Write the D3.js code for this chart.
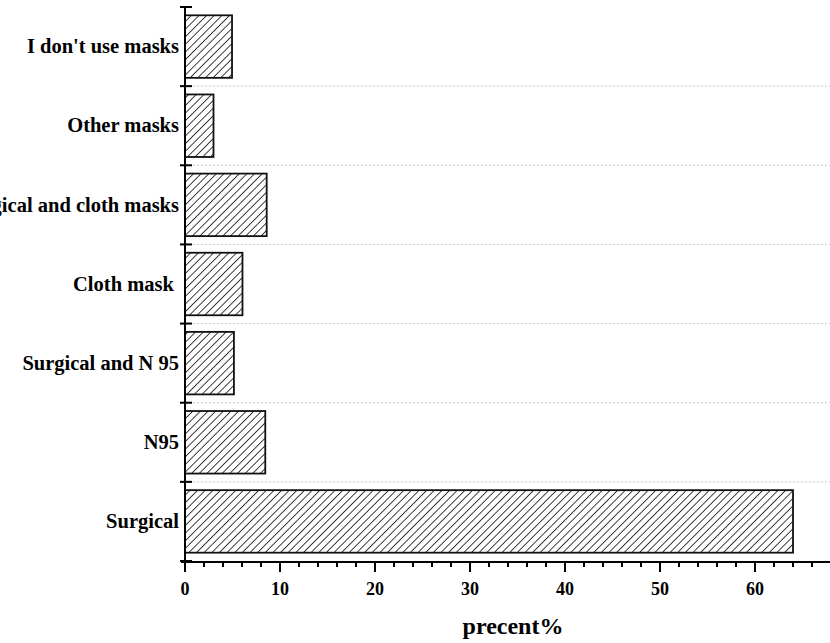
<!DOCTYPE html>
<html>
<head>
<meta charset="utf-8">
<script src="https://cdn.jsdelivr.net/npm/d3@7"></script>
<style>
  body { margin: 0; background: #fff; }
  svg { display: block; font-family: "Liberation Serif", "Times New Roman", serif; }
</style>
</head>
<body>
<svg width="830" height="643"></svg>
<script>
// categories from bottom to top, values in percent
const categories = ["Surgical", "N95", "Surgical and N 95", "Cloth mask ",
                    "Surgical and cloth masks", "Other masks", "I don't use masks"];
const percents   = [64.0, 8.45, 5.15, 6.05, 8.6, 3.0, 4.95];
const majorTicks = [0, 10, 20, 30, 40, 50, 60];
const xTitle     = "precent%";

let svg     = d3.select("svg"),
    plotL   = 185,
    plotT   = 7,
    plotB   = 561,
    pad     = 0.21,
    x       = d3.scaleLinear().domain([0, 68]).range([plotL, plotL + 646]),
    y       = d3.scaleBand().domain(categories).range([plotB, plotT])
                .paddingInner(pad).paddingOuter(pad / 2);

// hatch pattern for the bars
let defs = svg.append("defs");
let pat = defs.append("pattern")
    .attr("id", "hatch")
    .attr("patternUnits", "userSpaceOnUse")
    .attr("width", 5.4).attr("height", 5.4)
    .attr("patternTransform", "rotate(45)");
pat.append("rect").attr("width", 5.4).attr("height", 5.4).attr("fill", "#fff");
pat.append("line")
    .attr("x1", 0).attr("y1", 0).attr("x2", 0).attr("y2", 5.4)
    .attr("stroke", "#000").attr("stroke-width", 1.5);

// category boundaries (gridlines + ticks on y axis)
let step   = y.step(),
    bounds = d3.range(categories.length + 1).map(i => plotB - i * step);

svg.append("g").selectAll("line")
  .data(bounds.slice(1, -1))
  .enter().append("line")
    .attr("x1", plotL).attr("x2", 830)
    .attr("y1", d => d).attr("y2", d => d)
    .attr("stroke", "#c8c8c8")
    .attr("stroke-width", 1)
    .attr("stroke-dasharray", "2,2");

// bars
svg.append("g").selectAll("rect")
  .data(categories)
  .enter().append("rect")
    .attr("x", x(0))
    .attr("y", d => y(d))
    .attr("width", (d, i) => x(percents[i]) - x(0))
    .attr("height", y.bandwidth())
    .attr("fill", "url(#hatch)")
    .attr("stroke", "#111")
    .attr("stroke-width", 1.8);

// y axis
let yAxis = svg.append("g");
yAxis.append("line")
  .attr("x1", plotL).attr("x2", plotL)
  .attr("y1", plotT).attr("y2", plotB + 1)
  .attr("stroke", "#000").attr("stroke-width", 2);
yAxis.selectAll(".ytick")
  .data(bounds)
  .enter().append("line")
    .attr("class", "ytick")
    .attr("x1", plotL - 5).attr("x2", plotL + 7)
    .attr("y1", d => d).attr("y2", d => d)
    .attr("stroke", "#000").attr("stroke-width", 2);
yAxis.selectAll("text")
  .data(categories)
  .enter().append("text")
    .attr("x", plotL - 6)
    .attr("y", d => y(d) + y.bandwidth() / 2)
    .attr("dy", "0.33em")
    .attr("text-anchor", "end")
    .style("white-space", "pre")
    .attr("font-weight", "bold")
    .attr("font-size", 20.5)
    .text(d => d);

// x axis
let xAxis = svg.append("g").attr("transform", `translate(0,${plotB + 1})`);
xAxis.append("line")
  .attr("x1", plotL - 4).attr("x2", 830)
  .attr("stroke", "#000").attr("stroke-width", 2);
xAxis.selectAll(".minor")
  .data(d3.range(0, 68, 2).filter(v => v % 10 !== 0))
  .enter().append("line")
    .attr("class", "minor")
    .attr("x1", d => x(d)).attr("x2", d => x(d))
    .attr("y1", 0).attr("y2", 5)
    .attr("stroke", "#000").attr("stroke-width", 2);
xAxis.selectAll(".major")
  .data(majorTicks)
  .enter().append("line")
    .attr("class", "major")
    .attr("x1", d => x(d)).attr("x2", d => x(d))
    .attr("y1", 0).attr("y2", 10)
    .attr("stroke", "#000").attr("stroke-width", 2);
xAxis.selectAll("text")
  .data(majorTicks)
  .enter().append("text")
    .attr("x", d => x(d))
    .attr("y", 33)
    .attr("text-anchor", "middle")
    .attr("font-weight", "bold")
    .attr("font-size", 18)
    .text(d => d);

svg.append("text")
  .attr("x", 513)
  .attr("y", 634)
  .attr("text-anchor", "middle")
  .attr("font-weight", "bold")
  .attr("font-size", 24)
  .text(xTitle);
</script>
</body>
</html>
